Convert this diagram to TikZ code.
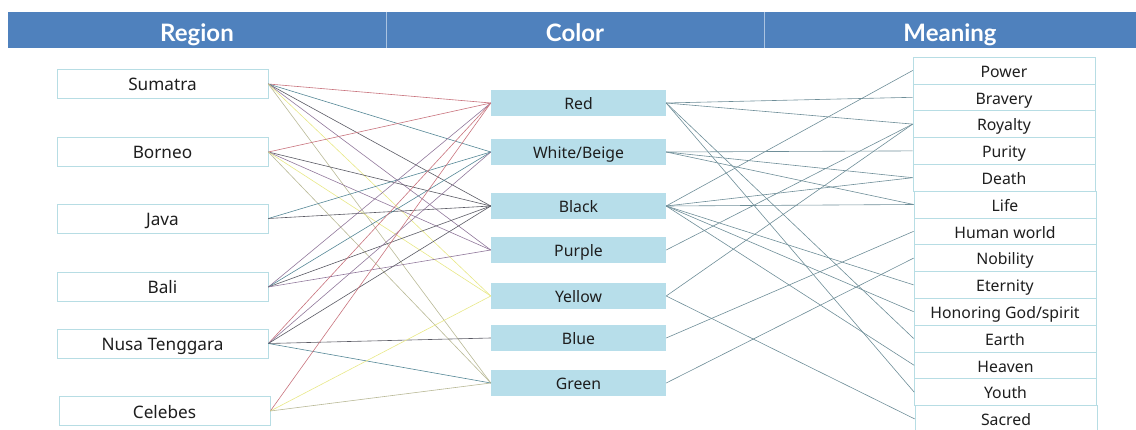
\documentclass[tikz,border=0pt]{standalone}
\usepackage{fontspec}
\setmainfont{Noto Sans}
\newfontfamily\hdfont{Lato}
\definecolor{hdr}{RGB}{79,129,189}
\definecolor{hdrline}{RGB}{170,195,225}
\definecolor{boxedge}{RGB}{183,221,228}
\definecolor{midfill}{RGB}{183,222,234}
\definecolor{txt}{RGB}{30,30,30}
\definecolor{redl}{RGB}{200,115,125}
\definecolor{teall}{RGB}{85,135,150}
\definecolor{darkl}{RGB}{90,90,100}
\definecolor{purpl}{RGB}{145,120,155}
\definecolor{yell}{RGB}{232,232,135}
\definecolor{khakl}{RGB}{185,185,150}
\definecolor{rightl}{RGB}{110,142,152}
\begin{document}
\begin{tikzpicture}[x=1pt,y=-1pt,
  reg/.style={draw=boxedge, fill=white, line width=0.7pt, minimum width=211pt, minimum height=29pt, inner sep=0pt, font=\fontsize{17.2}{19}\selectfont, text=txt, text height=14pt, text depth=0pt},
  col/.style={fill=midfill, minimum width=175pt, minimum height=26pt, inner sep=0pt, font=\fontsize{15.8}{17}\selectfont, text=txt, text height=13.4pt, text depth=0pt},
  mean/.style={draw=boxedge, fill=white, line width=0.7pt, minimum width=182pt, minimum height=26.8pt, inner sep=0pt, font=\fontsize{15.8}{17}\selectfont, text=txt, text height=13.6pt, text depth=0pt},
  hd/.style={fill=hdr, minimum height=36pt, inner sep=0pt, text=white, font=\hdfont\bfseries\fontsize{24}{26}\selectfont, text height=23pt, text depth=0pt},
  lk/.style={line width=0.6pt}]
\useasboundingbox (0,0) rectangle (1136,430);
% header
\node[hd, minimum width=378pt] (hR) at (197,30) {Region};
\node[hd, minimum width=378pt] (hC) at (575,30) {Color};
\node[hd, minimum width=372pt] (hM) at (950,30) {Meaning};
\draw[hdrline, line width=0.8pt] (hR.north east) -- (hR.south east);
\draw[hdrline, line width=0.8pt] (hC.north east) -- (hC.south east);
% regions
\node[reg] (sum) at (162.5,84) {Sumatra};
\node[reg] (bor) at (162.5,152) {Borneo};
\node[reg] (jav) at (162.5,218.5) {Java};
\node[reg] (bal) at (162.5,287) {Bali};
\node[reg] (nus) at (162.5,343.5) {Nusa Tenggara};
\node[reg] (cel) at (164.5,411) {Celebes};
% colors
\node[col] (red) at (578.5,103) {Red};
\node[col] (whi) at (578.5,152) {White/Beige};
\node[col] (bla) at (578.5,206) {Black};
\node[col] (pur) at (578.5,250) {Purple};
\node[col] (yel) at (578.5,296) {Yellow};
\node[col] (blu) at (578.5,338) {Blue};
\node[col] (gre) at (578.5,383) {Green};
% meanings
\node[mean] (m1) at (1004,70.5) {Power};
\node[mean] (m2) at (1004,97.3) {Bravery};
\node[mean] (m3) at (1004,124.1) {Royalty};
\node[mean] (m4) at (1004,150.9) {Purity};
\node[mean] (m5) at (1004,177.7) {Death};
\node[mean] (m6) at (1005,204.5) {Life};
\node[mean] (m7) at (1005,231.3) {Human world};
\node[mean] (m8) at (1005,258.1) {Nobility};
\node[mean] (m9) at (1005,284.9) {Eternity};
\node[mean] (m10) at (1005,311.7) {Honoring God/spirit};
\node[mean] (m11) at (1005,338.5) {Earth};
\node[mean] (m12) at (1005.5,365.3) {Heaven};
\node[mean] (m13) at (1005.5,392.1) {Youth};
\node[mean] (m14) at (1006,418.9) {Sacred};
% region -> color
\draw[lk,redl] (sum.east) -- (red.west);
\draw[lk,teall] (sum.east) -- (whi.west);
\draw[lk,darkl] (sum.east) -- (bla.west);
\draw[lk,purpl] (sum.east) -- (pur.west);
\draw[lk,yell] (sum.east) -- (yel.west);
\draw[lk,khakl] (sum.east) -- (gre.west);
\draw[lk,redl] (bor.east) -- (red.west);
\draw[lk,darkl] (bor.east) -- (bla.west);
\draw[lk,purpl] (bor.east) -- (pur.west);
\draw[lk,yell] (bor.east) -- (yel.west);
\draw[lk,khakl] (bor.east) -- (gre.west);
\draw[lk,teall] (jav.east) -- (whi.west);
\draw[lk,darkl] (jav.east) -- (bla.west);
\draw[lk,purpl] (bal.east) -- (red.west);
\draw[lk,teall] (bal.east) -- (whi.west);
\draw[lk,darkl] (bal.east) -- (bla.west);
\draw[lk,purpl] (bal.east) -- (pur.west);
\draw[lk,redl] (nus.east) -- (red.west);
\draw[lk,purpl] (nus.east) -- (whi.west);
\draw[lk,darkl] (nus.east) -- (bla.west);
\draw[lk,darkl] (nus.east) -- (blu.west);
\draw[lk,teall] (nus.east) -- (gre.west);
\draw[lk,redl] (cel.east) -- (red.west);
\draw[lk,yell] (cel.east) -- (yel.west);
\draw[lk,khakl] (cel.east) -- (gre.west);
% color -> meaning
\draw[lk,rightl] (red.east) -- (m2.west);
\draw[lk,rightl] (red.east) -- (m3.west);
\draw[lk,rightl] (red.east) -- (m11.west);
\draw[lk,rightl] (red.east) -- (m13.west);
\draw[lk,rightl] (whi.east) -- (m4.west);
\draw[lk,rightl] (whi.east) -- (m5.west);
\draw[lk,rightl] (whi.east) -- (m6.west);
\draw[lk,rightl] (bla.east) -- (m1.west);
\draw[lk,rightl] (bla.east) -- (m5.west);
\draw[lk,rightl] (bla.east) -- (m6.west);
\draw[lk,rightl] (bla.east) -- (m9.west);
\draw[lk,rightl] (bla.east) -- (m10.west);
\draw[lk,rightl] (bla.east) -- (m12.west);
\draw[lk,rightl] (pur.east) -- (m3.west);
\draw[lk,rightl] (yel.east) -- (m3.west);
\draw[lk,rightl] (yel.east) -- (m14.west);
\draw[lk,rightl] (blu.east) -- (m7.west);
\draw[lk,rightl] (gre.east) -- (m8.west);
\end{tikzpicture}
\end{document}
